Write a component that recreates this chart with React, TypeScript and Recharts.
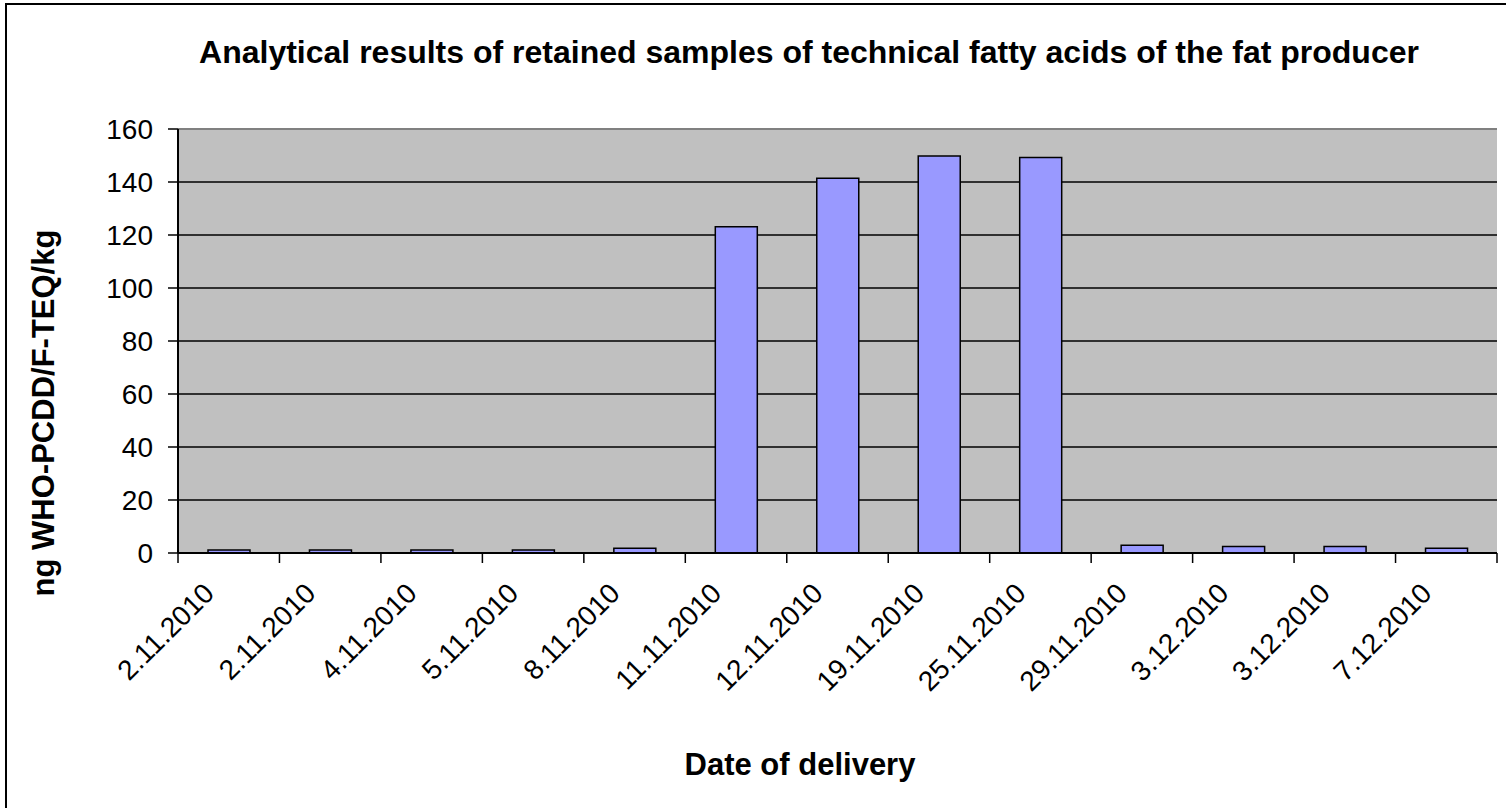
import { BarChart, Bar, XAxis, YAxis, CartesianGrid } from "recharts";

const deliveryDates = [
  "2.11.2010",
  "2.11.2010",
  "4.11.2010",
  "5.11.2010",
  "8.11.2010",
  "11.11.2010",
  "12.11.2010",
  "19.11.2010",
  "25.11.2010",
  "29.11.2010",
  "3.12.2010",
  "3.12.2010",
  "7.12.2010",
];

const teqValues = [1.1, 1.1, 1.1, 1.1, 1.8, 123.1, 141.4, 149.8, 149.2, 2.9, 2.5, 2.5, 1.8];

const yTicks = [0, 20, 40, 60, 80, 100, 120, 140, 160];

const chartTitle = "Analytical results of retained samples of technical fatty acids of the fat producer";
const xTitle = "Date of delivery";
const yTitle = "ng WHO-PCDD/F-TEQ/kg";

const W = 1506;
const H = 808;
const margin = { top: 129, right: 9, bottom: 225, left: 0 };
const yAxisWidth = 178;
const band = (W - margin.left - margin.right - yAxisWidth) / deliveryDates.length;
const font = "'Liberation Sans', Arial, sans-serif";

const data = deliveryDates.map((date, i) => ({ date, value: teqValues[i] }));

const DateTick = (props: any) => {
  const { x, y, payload, index } = props;
  const half = band / 2;
  const tx = x - 13;
  const ty = y + 42;
  return (
    <g>
      <line x1={x - half} x2={x - half} y1={y} y2={y + 10} stroke="#000" strokeWidth={1.5} />
      {index === deliveryDates.length - 1 && (
        <line x1={x + half} x2={x + half} y1={y} y2={y + 10} stroke="#000" strokeWidth={1.5} />
      )}
      <text
        x={tx}
        y={ty}
        transform={`rotate(-45, ${tx}, ${ty})`}
        textAnchor="end"
        fontSize={28}
        fontFamily={font}
        fill="#000"
      >
        {payload.value}
      </text>
    </g>
  );
};

const GridLine = (props: any) => {
  const { x1, x2, y1, y2 } = props;
  const isTop = Math.abs(y1 - margin.top) < 1;
  return (
    <line
      x1={x1}
      x2={x2}
      y1={y1}
      y2={y2}
      stroke={isTop ? "#808080" : "#000"}
      strokeWidth={isTop ? 2 : 1.5}
    />
  );
};

export default function App() {
  return (
    <div style={{ position: "fixed", left: 0, top: 0, width: W, height: H, background: "#fff" }}>
      <BarChart width={W} height={H} data={data} margin={margin} barSize={42}>
        <CartesianGrid vertical={false} fill="#C0C0C0" horizontal={GridLine} />
        <XAxis
          dataKey="date"
          tickLine={false}
          tickSize={0}
          tickMargin={0}
          interval={0}
          tick={DateTick}
          axisLine={{ stroke: "#000", strokeWidth: 2 }}
        />
        <YAxis
          width={yAxisWidth}
          domain={[0, 160]}
          ticks={yTicks}
          interval={0}
          tickSize={10}
          tickMargin={15}
          tickLine={{ stroke: "#000", strokeWidth: 1.5 }}
          axisLine={{ stroke: "#000", strokeWidth: 2 }}
          tick={{ fill: "#000", fontSize: 28, fontFamily: font }}
        />
        <YAxis
          yAxisId="frame"
          orientation="right"
          width={0}
          domain={[0, 160]}
          tick={false}
          tickLine={false}
          axisLine={{ stroke: "#808080", strokeWidth: 2 }}
        />
        <Bar dataKey="value" fill="#9999FF" stroke="#000" strokeWidth={1.5} isAnimationActive={false} />
      </BarChart>
      <svg width={W} height={H} style={{ position: "absolute", left: 0, top: 0, pointerEvents: "none" }}>
        <line x1={6} y1={3} x2={6} y2={H} stroke="#000" strokeWidth={2} />
        <line x1={5} y1={4} x2={W} y2={4} stroke="#000" strokeWidth={2} />
        <text x={809} y={63} textAnchor="middle" fontSize={32} fontWeight="bold" fontFamily={font}>
          {chartTitle}
        </text>
        <text x={800} y={775} textAnchor="middle" fontSize={31} fontWeight="bold" fontFamily={font}>
          {xTitle}
        </text>
        <text
          x={54}
          y={413}
          transform="rotate(-90, 54, 413)"
          textAnchor="middle"
          fontSize={31}
          fontWeight="bold"
          fontFamily={font}
        >
          {yTitle}
        </text>
      </svg>
    </div>
  );
}
